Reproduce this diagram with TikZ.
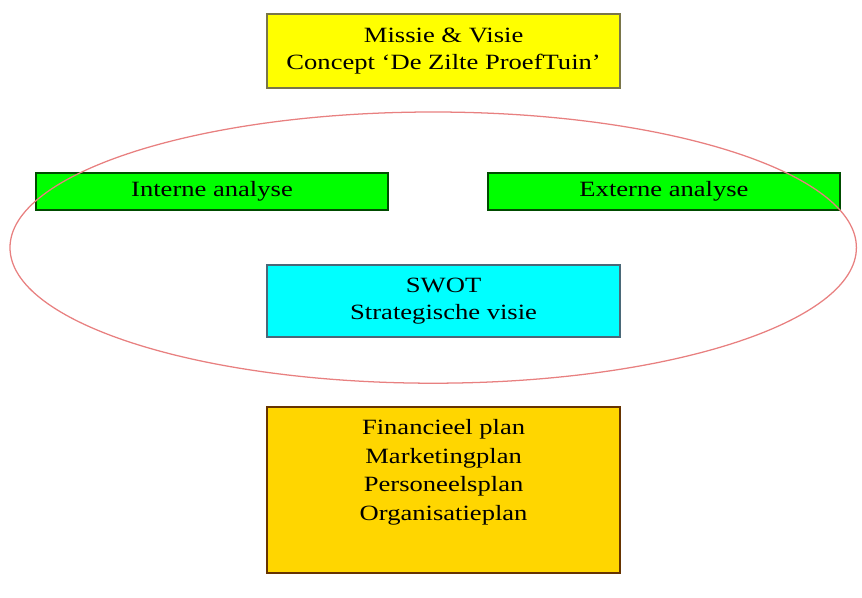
\documentclass[tikz,border=0pt]{standalone}
\usepackage{fontspec}
\setmainfont{Liberation Serif}[FakeStretch=1.22]
\usepackage{tikz}
\usetikzlibrary{positioning}
\definecolor{missiegeel}{RGB}{255,255,0}
\definecolor{analysegroen}{RGB}{0,255,0}
\definecolor{swotcyaan}{RGB}{0,255,255}
\definecolor{plangoud}{RGB}{255,214,0}
\definecolor{ellipsrood}{RGB}{232,128,128}

\begin{document}
\begin{tikzpicture}[
  blok/.style={draw, line width=1.2pt, align=center, inner sep=0pt, font=\fontsize{15.5}{19}\selectfont},
  lijn/.style={line width=0.9pt}
]
\useasboundingbox (0,0) rectangle (21.55,-14.95);
\node[blok, fill=missiegeel, draw=yellow!40!black, minimum width=8.825cm, minimum height=1.85cm] (missie) at (11.09,-1.275) {Missie \& Visie\\Concept `De Zilte ProefTuin'};
\node[blok, fill=analysegroen, draw=green!30!black, minimum width=8.8cm, minimum height=0.925cm] (intern) at (5.3,-4.79) {Interne analyse};
\node[blok, fill=analysegroen, draw=green!30!black, minimum width=8.8cm, minimum height=0.925cm] (extern) at (16.6,-4.79) {Externe analyse};
\node[blok, fill=swotcyaan, draw=cyan!40!black, minimum width=8.825cm, minimum height=1.8cm] (swot) at (11.09,-7.525) {SWOT\\Strategische visie};
\node[blok, fill=plangoud, draw=orange!40!black, minimum width=8.825cm, minimum height=4.15cm] (plannen) at (11.09,-12.25) {};
\node[align=center, font=\fontsize{15.5}{20.5}\selectfont, below=0.2cm of plannen.north] (plantekst) {Financieel plan\\Marketingplan\\Personeelsplan\\Organisatieplan};
\draw[lijn, ellipsrood] (10.83,-6.19) ellipse (10.58cm and 3.39cm);
\end{tikzpicture}
\end{document}
